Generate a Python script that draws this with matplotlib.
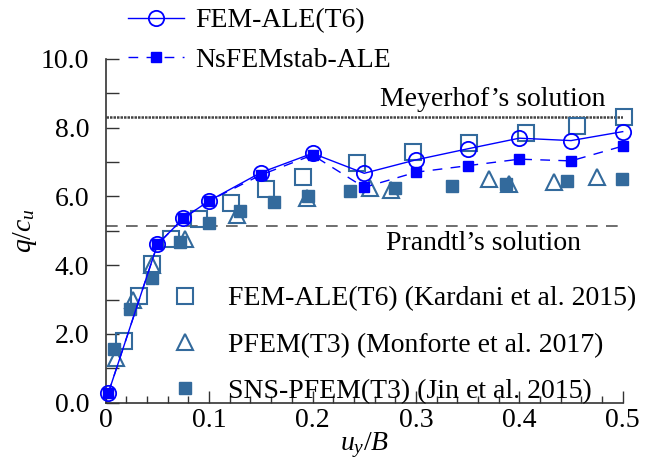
import numpy as np
import matplotlib
matplotlib.use("Agg")
import matplotlib.pyplot as plt
from matplotlib.lines import Line2D

plt.rcParams['font.family'] = ['Liberation Serif', 'DejaVu Serif']
plt.rcParams['mathtext.fontset'] = 'custom'
plt.rcParams['mathtext.rm'] = 'Liberation Serif'
plt.rcParams['mathtext.it'] = 'Liberation Serif:italic'

# Resultados propios (FEM-ALE y NsFEMstab-ALE)
x_ale = [0.0025, 0.05, 0.075, 0.1, 0.15, 0.2, 0.25, 0.3, 0.35, 0.4, 0.45, 0.5]
q_fem_ale = [0.28, 4.60, 5.36, 5.87, 6.69, 7.25, 6.67, 7.06, 7.38, 7.69, 7.62, 7.88]
q_nsfem = [0.28, 4.60, 5.36, 5.87, 6.62, 7.20, 6.26, 6.70, 6.89, 7.08, 7.03, 7.46]

# Kardani et al. 2015
x_kardani = [0.018, 0.0325, 0.0445, 0.063, 0.090, 0.121, 0.155, 0.191, 0.243,
             0.2975, 0.351, 0.406, 0.4555, 0.501]
q_kardani = [1.80, 3.10, 4.03, 4.75, 5.34, 5.81, 6.21, 6.57, 6.96, 7.28, 7.56,
             7.83, 8.04, 8.30]

# Monforte et al. 2017
x_monforte = [0.010, 0.0267, 0.0445, 0.077, 0.127, 0.195, 0.256, 0.276, 0.371,
              0.390, 0.4335, 0.475]
q_monforte = [1.29, 2.99, 4.00, 4.75, 5.46, 5.96, 6.23, 6.19, 6.49, 6.35, 6.42, 6.57]

# Jin et al. 2015
x_jin = [0.008, 0.023, 0.0445, 0.072, 0.100, 0.130, 0.163, 0.196, 0.236, 0.280,
         0.335, 0.387, 0.446, 0.4996]
q_jin = [1.55, 2.72, 3.63, 4.68, 5.23, 5.58, 5.83, 6.01, 6.16, 6.23, 6.30, 6.36,
         6.45, 6.49]

# Soluciones analiticas
q_meyerhof = 8.30
q_prandtl = 5.14

azul = '#0000ff'
acero = '#336a9c'
fs = 20

fig = plt.figure(figsize=(6.49, 4.66), dpi=100)
ax = fig.add_axes([0.1629, 0.1358, 0.7966, 0.7382])

ax.axhline(q_meyerhof, color='#444444', lw=1.8, ls=(0, (1, 0.4)), zorder=1)
ax.axhline(q_prandtl, color='#555555', lw=1.2, ls=(0, (7, 5)), zorder=1)
ax.text(0.265, 8.80, 'Meyerhof\u2019s solution', fontsize=fs, va='center', ha='left')
ax.text(0.271, 4.64, 'Prandtl\u2019s solution', fontsize=fs, va='center', ha='left')

# Datos de referencia
ax.plot(x_kardani, q_kardani, ls='none', marker='s', ms=12, mfc='none',
        mec=acero, mew=1.5, clip_on=False, zorder=3)
ax.plot(x_monforte, q_monforte, ls='none', marker='^', ms=12, mfc='none',
        mec=acero, mew=1.5, clip_on=False, zorder=3)
ax.plot(x_jin, q_jin, ls='none', marker='s', ms=8.5, mfc=acero, mec=acero,
        clip_on=False, zorder=3)

# Resultados propios
l1, = ax.plot(x_ale, q_fem_ale, color=azul, lw=1.0, marker='o', ms=11, mfc='none',
              mec=azul, mew=1.3, clip_on=False, zorder=4)
l2, = ax.plot(x_ale, q_nsfem, color=azul, lw=1.0, ls=(0, (7, 6)), marker='s', ms=6.5,
              mfc=azul, mec=azul, clip_on=False, zorder=4)

ax.set_xlim(0, 0.5)
ax.set_ylim(0, 10)
ax.set_xticks(np.arange(0, 0.51, 0.1))
ax.set_xticklabels(['0', '0.1', '0.2', '0.3', '0.4', '0.5'])
ax.set_xticks(np.arange(0, 0.501, 0.02), minor=True)
ax.set_yticks(np.arange(0, 10.1, 2))
ax.set_yticklabels(['%.1f' % v for v in np.arange(0, 10.1, 2)])
ax.set_yticks(np.arange(0, 10.1, 1), minor=True)
ax.tick_params(axis='both', which='both', direction='in', labelsize=fs, color='#333333')
ax.tick_params(axis='x', which='major', length=9, width=1, pad=4)
ax.tick_params(axis='x', which='minor', length=5, width=1)
ax.tick_params(axis='y', which='both', length=9, width=1, pad=12)

for lado in ['top', 'right']:
    ax.spines[lado].set_visible(False)
for lado in ['left', 'bottom']:
    ax.spines[lado].set_color('#333333')
    ax.spines[lado].set_linewidth(1.2)

ax.set_xlabel('$u_y/B$', fontsize=fs, labelpad=-2)
ax.set_ylabel('$q/c_u$', fontsize=fs, labelpad=1)

# Leyenda superior
leg1 = fig.legend([l1, l2], ['FEM-ALE(T6)', 'NsFEMstab-ALE'], loc='upper left',
                  bbox_to_anchor=(128 / 649, 1 - 8 / 466), frameon=False, fontsize=fs,
                  handlelength=2.0, handletextpad=0.42, labelspacing=0.5,
                  borderpad=0, borderaxespad=0)

# Leyenda de referencias
h_k = Line2D([], [], ls='none', marker='s', ms=12, mfc='none', mec=acero, mew=1.5)
h_m = Line2D([], [], ls='none', marker='^', ms=12, mfc='none', mec=acero, mew=1.5)
h_j = Line2D([], [], ls='none', marker='s', ms=8.5, mfc=acero, mec=acero)
leg2 = ax.legend([h_k, h_m, h_j],
                 ['FEM-ALE(T6) (Kardani et al. 2015)',
                  'PFEM(T3) (Monforte et al. 2017)',
                  'SNS-PFEM(T3) (Jin et al. 2015)'],
                 loc='upper left', bbox_to_anchor=(171 / 649, 1 - 286 / 466),
                 bbox_transform=fig.transFigure, frameon=False, fontsize=fs,
                 numpoints=1, handlelength=1.0, handletextpad=1.05, labelspacing=0.75,
                 borderpad=0, borderaxespad=0)

fig.savefig('out.png', dpi=100)
